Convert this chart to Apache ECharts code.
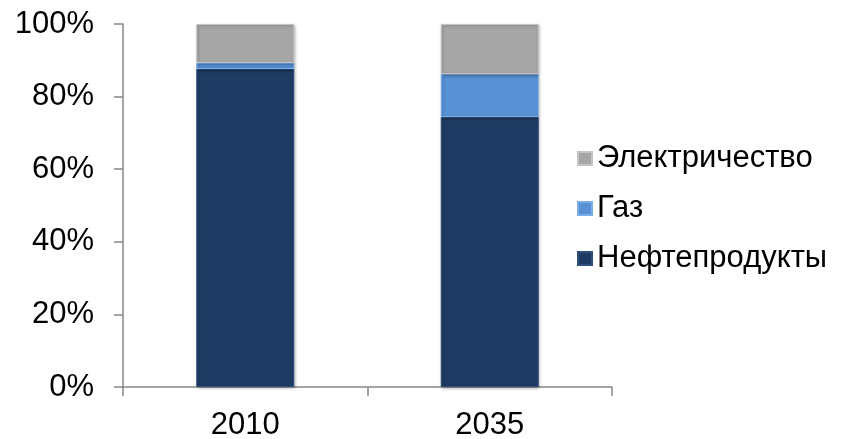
<!DOCTYPE html>
<html>
<head>
<meta charset="utf-8">
<script src="https://cdn.jsdelivr.net/npm/echarts@6/dist/echarts.min.js"></script>
<style>
html,body{margin:0;padding:0;background:#fff;}
#chart{width:841px;height:439px;}
</style>
</head>
<body>
<div id="chart"></div>
<script>
const categories = ['2010', '2035'];
const oil = [87.6, 74.4];
const gas = [1.7, 11.8];
const electricity = [10.7, 13.8];
const yTicks = [0, 20, 40, 60, 80, 100];

const FONT = 'Liberation Sans, Arial, sans-serif';

function barStyle(main, edge) {
  return {
    color: main,
    borderColor: edge,
    borderWidth: 1,
    shadowColor: 'rgba(0,0,0,0.3)',
    shadowBlur: 3,
    shadowOffsetX: 1,
    shadowOffsetY: 1
  };
}

const chart = echarts.init(document.getElementById('chart'), null, {renderer: 'canvas'});
chart.setOption({
  animation: false,
  backgroundColor: '#ffffff',
  grid: {left: 123, right: 229, top: 24, bottom: 52, containLabel: false, outerBoundsMode: 'none'},
  legend: {
    orient: 'vertical',
    left: 572,
    top: 138,
    itemWidth: 14,
    itemHeight: 13,
    itemGap: 19,
    icon: 'rect',
    data: ['Электричество', 'Газ', 'Нефтепродукты'],
    textStyle: {fontFamily: FONT, fontSize: 31, color: '#000'}
  },
  xAxis: {
    type: 'category',
    data: categories,
    axisLine: {lineStyle: {color: '#868686', width: 1.5}},
    axisTick: {show: true, length: 9, lineStyle: {color: '#868686', width: 1.5}},
    axisLabel: {fontFamily: FONT, fontSize: 31, color: '#000', margin: 23},
    splitLine: {show: false}
  },
  yAxis: {
    type: 'value',
    min: yTicks[0],
    max: yTicks[yTicks.length - 1],
    interval: yTicks[1] - yTicks[0],
    axisLine: {show: true, lineStyle: {color: '#868686', width: 1.5}},
    axisTick: {show: true, length: 9, lineStyle: {color: '#868686', width: 1.5}},
    axisLabel: {fontFamily: FONT, fontSize: 31, color: '#000', margin: 29, formatter: '{value}%'},
    splitLine: {show: false}
  },
  series: [
    {
      name: 'Нефтепродукты', type: 'bar', stack: 'total', data: oil, barWidth: 98,
      itemStyle: barStyle('#1f3b63', '#2f4f7d')
    },
    {
      name: 'Газ', type: 'bar', stack: 'total', data: gas, barWidth: 98,
      itemStyle: barStyle('#5891d6', '#7aaeea')
    },
    {
      name: 'Электричество', type: 'bar', stack: 'total', data: electricity, barWidth: 98,
      itemStyle: barStyle('#a6a6a6', '#c4c4c4')
    }
  ]
});
</script>
</body>
</html>
